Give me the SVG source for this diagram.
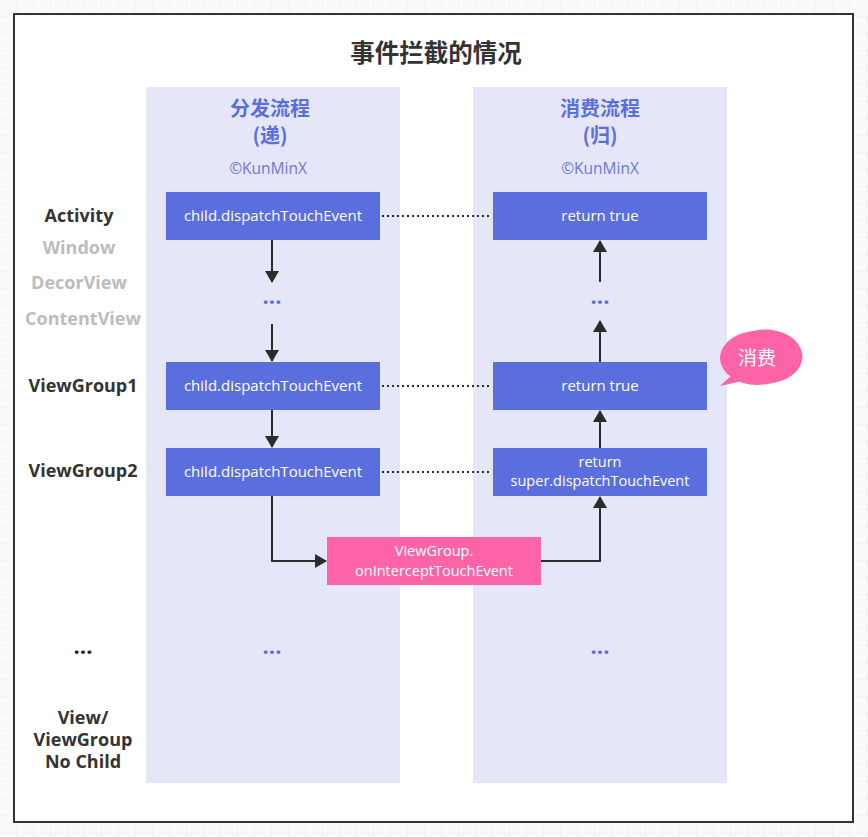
<svg xmlns="http://www.w3.org/2000/svg" width="868" height="837" viewBox="0 0 868 837">
<defs>
<pattern id="grid" width="17" height="17" patternUnits="userSpaceOnUse">
<path d="M17 0V17M0 17H17" fill="none" stroke="#ececec" stroke-width="1"/>
</pattern>
<marker id="ah" viewBox="0 0 12 16" refX="11" refY="8" markerWidth="12" markerHeight="16" markerUnits="userSpaceOnUse" orient="auto">
<path d="M0 1L12 8L0 15Z" fill="#2b2b2b"/>
</marker>
<style>
.col{fill:#e5e7f8}
.box{fill:#5b6ede}
.pink{fill:#fd64a8}
.bt{font-family:"Open Sans","Noto Sans",sans-serif;font-size:15px;fill:#fff;text-anchor:middle}
.bs{font-family:"Open Sans","Noto Sans",sans-serif;font-size:14.5px;fill:#fff;text-anchor:middle}
.hd{font-family:"Noto Sans CJK SC",sans-serif;font-size:20px;font-weight:bold;fill:#5b6ede;text-anchor:middle}
.cp{font-family:"Open Sans","Noto Sans",sans-serif;font-size:15.5px;fill:#6a77d8;text-anchor:middle}
.lb{font-family:"Open Sans","Noto Sans",sans-serif;font-size:18px;font-weight:bold;fill:#333;text-anchor:middle}
.lg{font-family:"Open Sans","Noto Sans",sans-serif;font-size:18px;font-weight:bold;fill:#bcbcbc;text-anchor:middle}
.dots{font-family:"Open Sans",sans-serif;font-size:22px;font-weight:bold;fill:#5b6ede;text-anchor:middle}
.ln{fill:none;stroke:#2b2b2b;stroke-width:2}
.dt{fill:none;stroke:#2b2b2b;stroke-width:2;stroke-dasharray:2 3}
</style>
</defs>
<rect width="868" height="837" fill="#fafafa"/>
<rect width="868" height="837" fill="url(#grid)"/>
<rect x="14" y="14" width="839" height="808" fill="#fff" stroke="#333" stroke-width="2"/>
<text x="436" y="62" font-family="Noto Sans CJK SC,sans-serif" font-size="24.5" font-weight="bold" fill="#333" text-anchor="middle">事件拦截的情况</text>

<g id="col-dispatch">
<rect class="col" x="146" y="87" width="254" height="696"/>
<text class="hd" x="270" y="116">分发流程</text>
<text class="hd" x="270" y="143">(递)</text>
<text class="cp" x="268" y="174">©KunMinX</text>
</g>
<g id="col-consume">
<rect class="col" x="473" y="87" width="254" height="696"/>
<text class="hd" x="600" y="116">消费流程</text>
<text class="hd" x="600" y="143">(归)</text>
<text class="cp" x="600" y="174">©KunMinX</text>
</g>

<g id="labels">
<text class="lb" x="79" y="222">Activity</text>
<text class="lg" x="79" y="254">Window</text>
<text class="lg" x="79" y="289">DecorView</text>
<text class="lg" x="83" y="325">ContentView</text>
<text class="lb" x="83" y="392">ViewGroup1</text>
<text class="lb" x="83" y="477">ViewGroup2</text>
<text class="dots" x="83" y="654" style="fill:#222">...</text>
<text class="lb" x="83" y="724">View/</text>
<text class="lb" x="83" y="746">ViewGroup</text>
<text class="lb" x="83" y="768">No Child</text>
</g>

<g id="connectors">
<line class="dt" x1="382" y1="216" x2="492" y2="216"/>
<line class="dt" x1="382" y1="386" x2="492" y2="386"/>
<line class="dt" x1="382" y1="472" x2="492" y2="472"/>
<line class="ln" x1="272" y1="240" x2="272" y2="282" marker-end="url(#ah)"/>
<line class="ln" x1="272" y1="324" x2="272" y2="361" marker-end="url(#ah)"/>
<line class="ln" x1="272" y1="410" x2="272" y2="447" marker-end="url(#ah)"/>
<path class="ln" d="M272 496V561H326" marker-end="url(#ah)"/>
<path class="ln" d="M541 561H600V497" marker-end="url(#ah)"/>
<line class="ln" x1="600" y1="448" x2="600" y2="411" marker-end="url(#ah)"/>
<line class="ln" x1="600" y1="362" x2="600" y2="321" marker-end="url(#ah)"/>
<line class="ln" x1="600" y1="282" x2="600" y2="241" marker-end="url(#ah)"/>
</g>

<g id="d1"><rect class="box" x="166" y="192" width="214" height="48"/><text class="bt" x="273" y="221">child.dispatchTouchEvent</text></g>
<g id="d-dots1"><text class="dots" x="272" y="304">...</text></g>
<g id="d2"><rect class="box" x="166" y="362" width="214" height="48"/><text class="bt" x="273" y="391">child.dispatchTouchEvent</text></g>
<g id="d3"><rect class="box" x="166" y="448" width="214" height="48"/><text class="bt" x="273" y="477">child.dispatchTouchEvent</text></g>
<g id="d-dots2"><text class="dots" x="272" y="654">...</text></g>

<g id="r1"><rect class="box" x="493" y="192" width="214" height="48"/><text class="bt" x="600" y="221">return true</text></g>
<g id="r-dots1"><text class="dots" x="600" y="304">...</text></g>
<g id="r2"><rect class="box" x="493" y="362" width="214" height="48"/><text class="bt" x="600" y="391">return true</text></g>
<g id="r3"><rect class="box" x="493" y="448" width="214" height="48"/><text class="bs" x="600" y="467">return</text><text class="bs" x="600" y="486">super.dispatchTouchEvent</text></g>
<g id="r-dots2"><text class="dots" x="600" y="654">...</text></g>

<g id="intercept"><rect class="pink" x="327" y="537" width="214" height="48"/><text class="bs" x="434" y="556">ViewGroup.</text><text class="bs" x="434" y="576">onInterceptTouchEvent</text></g>

<g id="bubble">
<path class="pink" d="M720 386L735 372A37 27 0 1 1 747 380Z"/>
<ellipse class="pink" cx="757" cy="358" rx="37" ry="27"/>
<text x="757" y="365" font-family="Noto Sans CJK SC,sans-serif" font-size="19" fill="#fff" text-anchor="middle">消费</text>
</g>
</svg>
